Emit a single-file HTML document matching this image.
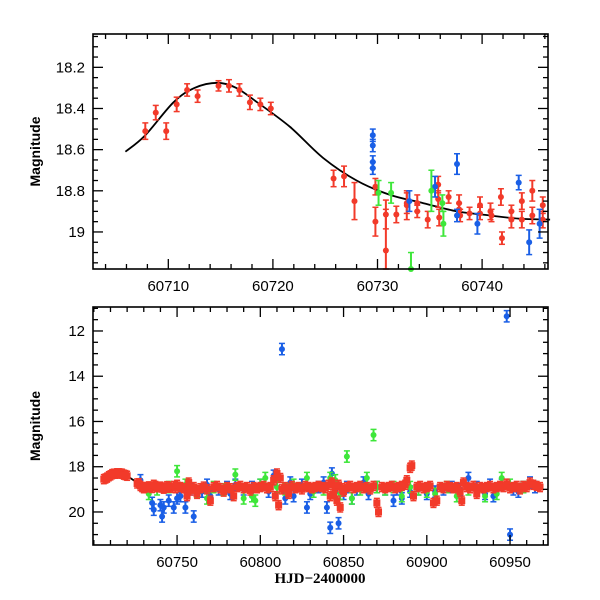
<!DOCTYPE html>
<html><head><meta charset="utf-8"><style>
html,body{margin:0;padding:0;background:#fff;}
svg{display:block;font-family:"Liberation Sans",sans-serif;}
</style></head><body>
<svg id="chart" width="600" height="600" xmlns="http://www.w3.org/2000/svg"></svg>
<script>
// ---- Top panel data ----
const modelDays = [60705.9,60707.8,60710.5,60712.5,60714.7,60716.5,60718.5,60721.65,60724.8,60728.0,60731.2,60734.4,60737.6,60740.75,60743.5,60746.5];
const modelMags = [18.61,18.53,18.37,18.30,18.275,18.30,18.37,18.49,18.64,18.75,18.82,18.86,18.90,18.92,18.935,18.94];

const topRedDays = [60707.8,60708.8,60709.8,60710.8,60711.8,60712.8,60714.8,60715.8,60716.8,60717.8,60718.8,60719.8,60725.8,60726.8,60727.8,60729.8,60729.8,60730.8,60730.8,60731.8,60732.8,60732.8,60733.8,60733.8,60734.8,60735.8,60735.8,60735.9,60736.8,60737.8,60737.8,60737.9,60738.8,60739.8,60739.8,60740.8,60740.9,60741.8,60741.9,60742.8,60742.8,60743.8,60743.8,60744.8,60744.8,60745.8,60745.8];
const topRedMags = [18.51,18.42,18.51,18.38,18.31,18.34,18.29,18.29,18.31,18.37,18.38,18.40,18.74,18.73,18.85,18.78,18.95,18.915,19.09,18.915,18.86,18.87,18.86,18.90,18.94,18.77,18.84,18.93,18.83,18.86,18.89,18.92,18.91,18.87,18.91,18.90,18.92,18.83,19.03,18.90,18.94,18.85,18.94,18.80,18.92,18.87,18.94];
const topRedErrs = [0.04,0.035,0.04,0.035,0.03,0.03,0.025,0.03,0.03,0.035,0.03,0.03,0.04,0.05,0.09,0.04,0.07,0.07,0.2,0.04,0.05,0.07,0.04,0.03,0.04,0.04,0.04,0.04,0.03,0.04,0.03,0.03,0.03,0.04,0.03,0.04,0.03,0.04,0.03,0.03,0.04,0.04,0.04,0.05,0.04,0.04,0.04];
const topBlueDays = [60729.55,60729.55,60729.55,60729.55,60733.05,60735.5,60737.6,60737.6,60739.55,60743.5,60744.5,60745.5];
const topBlueMags = [18.53,18.58,18.66,18.69,18.85,18.78,18.67,18.92,18.96,18.76,19.05,18.96];
const topBlueErrs = [0.03,0.03,0.03,0.03,0.05,0.05,0.05,0.03,0.05,0.035,0.06,0.07];
const topGreenDays = [60730.1,60731.3,60733.2,60735.15,60736.2,60736.3];
const topGreenMags = [18.81,18.81,19.18,18.80,18.86,18.96];
const topGreenErrs = [0.06,0.05,0.08,0.10,0.04,0.06];

const topXTicks = [60710,60720,60730,60740];
const topYTicks = [18.2,18.4,18.6,18.8,19];
const topYLabels = ["18.2","18.4","18.6","18.8","19"];

// ---- Bottom panel data ----
const botRedDays = [60706,60707,60708,60709,60710,60711,60712,60713,60714,60715,60716,60717,60718,60719,60720,60726,60727,60728,60729,60730,60731,60732,60733,60734,60735,60736,60737,60738,60739,60740,60741,60742,60743,60744,60745,60746,60748,60749,60750,60752,60754,60756,60757,60758,60760,60762,60764,60766,60768,60770,60772,60774,60776,60778,60780,60782,60784,60786,60788,60790,60792,60794,60796,60798,60800,60802,60804,60806,60808,60809,60810,60811,60812,60813,60815,60817,60819,60821,60823,60825,60827,60829,60831,60833,60835,60837,60839,60841,60842,60843,60844,60845,60846,60847,60848,60849,60850,60852,60854,60856,60858,60860,60862,60864,60866,60868,60870,60871,60873,60875,60877,60879,60881,60883,60885,60887,60888,60890,60891,60892,60894,60896,60898,60900,60902,60904,60906,60908,60910,60912,60914,60916,60918,60920,60921,60922,60924,60926,60928,60930,60932,60934,60936,60938,60940,60942,60944,60946,60948,60950,60952,60954,60956,60958,60960,60962,60964,60966,60968];
const botRedMags = [18.55,18.52,18.48,18.42,18.38,18.33,18.31,18.31,18.29,18.29,18.30,18.31,18.35,18.37,18.40,18.74,18.73,18.85,18.9,18.95,18.92,18.9,18.87,18.88,18.94,18.8,18.85,18.9,18.91,18.88,18.92,18.97,18.93,18.86,18.9,18.93,18.85,18.95,18.8,18.9,18.95,19.3,18.7,19.05,18.9,19.2,18.95,18.88,19.0,19.5,18.9,18.85,18.95,19.1,18.9,18.95,19.3,18.9,18.85,18.95,18.9,19.05,18.9,18.95,18.9,18.85,18.95,18.9,18.6,19.3,18.3,19.7,18.5,19.0,18.9,19.2,18.85,18.95,18.9,19.0,18.85,18.9,18.95,18.9,18.85,18.9,18.95,18.8,19.3,18.7,19.2,18.9,19.5,18.8,19.8,18.95,19.1,18.9,18.85,18.95,18.9,18.85,18.95,18.9,19.0,18.85,19.6,20.0,18.9,18.95,18.9,18.85,18.95,18.9,18.85,18.8,18.6,18.05,17.95,19.3,18.9,18.85,18.95,18.9,18.85,19.6,19.5,18.9,18.95,18.85,18.9,18.95,18.9,19.1,19.5,18.7,18.9,18.95,18.85,19.2,18.9,18.95,18.9,18.85,18.95,18.9,18.85,18.9,18.75,18.95,18.9,18.85,19.0,18.85,18.9,18.7,18.8,18.85,18.9];
const botBlueDays = [60728,60735,60736,60740,60741,60742,60745,60748,60750,60752,60755,60758,60760,60765,60768,60770,60775,60780,60782,60785,60790,60795,60800,60805,60808,60810,60813,60815,60818,60820,60825,60828,60830,60835,60838,60840,60842,60843,60845,60847,60850,60852,60855,60858,60862,60865,60870,60875,60880,60882,60885,60890,60895,60900,60905,60910,60915,60920,60925,60930,60935,60938,60940,60945,60948,60950,60952,60955,60958,60962,60965];
const botBlueMags = [18.6,19.6,19.9,19.7,20.2,19.8,19.5,19.8,19.4,19.3,19.8,19.0,20.2,19.1,18.8,19.3,19.0,18.9,19.2,18.8,19.0,18.9,18.8,19.1,18.4,18.6,12.8,19.4,18.7,19.3,18.8,19.8,19.2,18.9,18.7,19.8,20.7,18.3,19.1,20.5,19.2,18.9,19.4,19.0,18.7,19.2,18.9,19.0,19.5,19.0,19.4,19.1,19.0,19.2,19.1,19.0,18.9,19.0,18.5,18.9,19.2,18.8,19.3,18.8,11.35,21.0,19.0,19.1,18.9,18.7,18.9];
const botGreenDays = [60733,60738,60745,60750,60755,60762,60768,60772,60778,60785,60790,60795,60797,60800,60803,60810,60815,60820,60828,60832,60838,60842,60845,60848,60852,60855,60860,60864,60868,60870,60875,60880,60885,60890,60895,60900,60905,60912,60918,60925,60935,60942,60945,60950,60958];
const botGreenMags = [19.2,19.0,18.9,18.2,18.8,19.1,19.4,18.9,19.0,18.35,19.4,19.3,19.5,18.8,18.5,18.9,19.0,18.8,18.5,19.1,19.0,18.5,18.6,19.2,17.55,19.4,19.0,18.5,16.6,18.9,19.0,18.9,19.3,18.9,19.0,19.1,19.2,18.9,19.3,19.0,19.3,19.2,18.5,18.8,18.9];
const botErr = 0.25;

const botXTicks = [60750,60800,60850,60900,60950];
const botYTicks = [12,14,16,18,20];

// ---- Axis functions ----
const T = {x0:93,x1:548,y0:34,y1:269, d0:60702.8, d1:60746.3, m0:18.038, m1:19.18};
const B = {x0:93,x1:548,y0:307,y1:545, d0:60699.5, d1:60972.8, m0:10.94, m1:21.46};
function sx(p,d){return p.x0+(d-p.d0)/(p.d1-p.d0)*(p.x1-p.x0);}
function sy(p,m){return p.y0+(m-p.m0)/(p.m1-p.m0)*(p.y1-p.y0);}

const NS="http://www.w3.org/2000/svg";
const svg=document.getElementById('chart');
function mk(tag,attrs,parent){const e=document.createElementNS(NS,tag);for(const k in attrs)e.setAttribute(k,attrs[k]);(parent||svg).appendChild(e);return e;}

const COL={red:'#f23a2a',blue:'#1a5fe6',green:'#3ee63a'};

function drawFrame(p,name,xMajor,xMinorStep,yMajor,yMinorStep,yLabels){
  const g=mk('g',{});
  
  
  for(let d=Math.ceil(p.d0/xMinorStep)*xMinorStep; d<=p.d1; d+=xMinorStep){
    const x=sx(p,d); const major=xMajor.some(v=>Math.abs(v-d)<1e-6); const L=major?10:5;
    mk('line',{x1:x,x2:x,y1:p.y1,y2:p.y1-L,stroke:'#000','stroke-width':1.3},g);
    mk('line',{x1:x,x2:x,y1:p.y0,y2:p.y0+L,stroke:'#000','stroke-width':1.3},g);
  }
  const ys=Math.ceil(p.m0/yMinorStep-1e-9);
  for(let i=ys; i*yMinorStep<=p.m1; i++){
    const m=i*yMinorStep; const y=sy(p,m); const major=yMajor.some(v=>Math.abs(v-m)<1e-6); const L=major?10:5;
    mk('line',{x1:p.x0,x2:p.x0+L,y1:y,y2:y,stroke:'#000','stroke-width':1.3},g);
    mk('line',{x1:p.x1,x2:p.x1-L,y1:y,y2:y,stroke:'#000','stroke-width':1.3},g);
  }
  xMajor.forEach(d=>{
    const t=mk('text',{x:sx(p,d),y:p.y1+22,'text-anchor':'middle','font-size':15},g);t.textContent=String(d);
    
    
  });
  yMajor.forEach((m,i)=>{
    const t=mk('text',{x:p.x0-8,y:sy(p,m)+5,'text-anchor':'end','font-size':15},g);t.textContent=yLabels[i];
    
    
  });
  const yt=mk('text',{x:0,y:0,'text-anchor':'middle','font-size':14,'font-weight':'bold',transform:`translate(${p.x0-53},${(p.y0+p.y1)/2}) rotate(-90)`},g);
  yt.textContent='Magnitude';
  
  
  mk('rect',{x:p.x0,y:p.y0,width:p.x1-p.x0,height:p.y1-p.y0,fill:'none',stroke:'#000','stroke-width':1.6},g);
}

function drawModel(p,name,maxDay){
  const P=[];
  for(let i=0;i<modelDays.length;i++){ if(modelDays[i]<=maxDay) P.push([sx(p,modelDays[i]),sy(p,modelMags[i])]); }
  let d='M'+P[0][0].toFixed(1)+','+P[0][1].toFixed(1);
  for(let i=0;i<P.length-1;i++){
    const p0=P[Math.max(0,i-1)],p1=P[i],p2=P[i+1],p3=P[Math.min(P.length-1,i+2)];
    const c1=[p1[0]+(p2[0]-p0[0])/6,p1[1]+(p2[1]-p0[1])/6];
    const c2=[p2[0]-(p3[0]-p1[0])/6,p2[1]-(p3[1]-p1[1])/6];
    d+=` C${c1[0].toFixed(1)},${c1[1].toFixed(1)} ${c2[0].toFixed(1)},${c2[1].toFixed(1)} ${p2[0].toFixed(1)},${p2[1].toFixed(1)}`;
  }
  const pl=mk('path',{d:d,fill:'none',stroke:'#000','stroke-width':1.8,'stroke-linejoin':'round'});
  
  
}

function drawSeries(p,name,days,mags,errs,color,r,square){
  const g=mk('g',{});
  
  
  for(let i=0;i<days.length;i++){
    const x=sx(p,days[i]), y=sy(p,mags[i]);
    if(y<p.y0-5||y>p.y1+30) continue;
    const e=Array.isArray(errs)?errs[i]:errs;
    const ya=Math.max(p.y0,sy(p,mags[i]-e)), yb=Math.min(p.y1,sy(p,mags[i]+e));
    mk('line',{x1:x,x2:x,y1:ya,y2:yb,stroke:color,'stroke-width':2},g);
    mk('line',{x1:x-3,x2:x+3,y1:ya,y2:ya,stroke:color,'stroke-width':1.5},g);
    mk('line',{x1:x-3,x2:x+3,y1:yb,y2:yb,stroke:color,'stroke-width':1.5},g);
    let m;
    if(y>p.y1) continue;
    if(square) m=mk('rect',{x:x-r,y:y-r,width:2*r,height:2*r,fill:color},g);
    else m=mk('circle',{cx:x,cy:y,r:r,fill:color},g);
    
    
  }
}

// Top panel
drawModel(T,'model-curve-top',60747);
drawSeries(T,'red-series-top',topRedDays,topRedMags,topRedErrs,COL.red,3,false);
drawSeries(T,'blue-series-top',topBlueDays,topBlueMags,topBlueErrs,COL.blue,3,false);
drawSeries(T,'green-series-top',topGreenDays,topGreenMags,topGreenErrs,COL.green,3,false);
drawFrame(T,'top-panel',topXTicks,2,topYTicks,0.05,topYLabels);

// Bottom panel
drawModel(B,'model-curve-bottom',60728);
drawSeries(B,'blue-series-bottom',botBlueDays,botBlueMags,botErr,COL.blue,3,false);
drawSeries(B,'green-series-bottom',botGreenDays,botGreenMags,botErr,COL.green,3,false);
drawSeries(B,'red-series-bottom',botRedDays,botRedMags,0.2,COL.red,3.5,true);
drawFrame(B,'bottom-panel',botXTicks,10,botYTicks,0.5,botYTicks.map(String));

const xt=mk('text',{x:320,y:583,'text-anchor':'middle','font-size':15,'font-weight':'bold','font-family':'"Liberation Serif",serif'});
xt.textContent='HJD\u22122400000';


</script>
</body></html>
